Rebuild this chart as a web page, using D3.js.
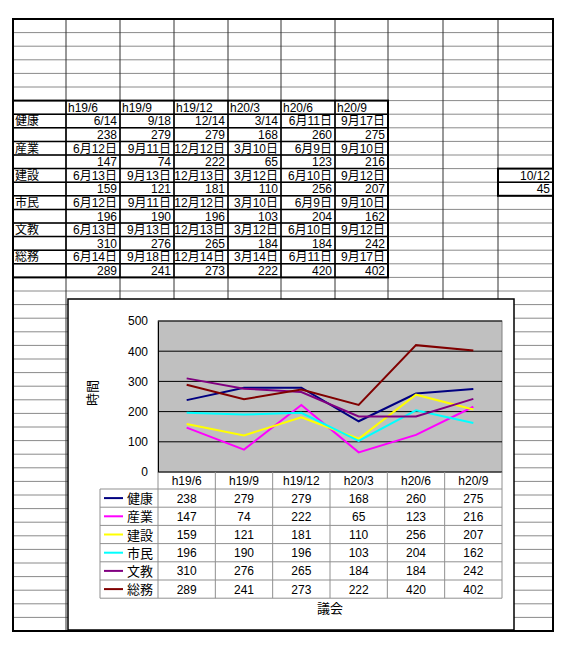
<!DOCTYPE html>
<html>
<head>
<meta charset="utf-8">
<script src="https://cdn.jsdelivr.net/npm/d3@7"></script>
<style>
  body { margin: 0; background: #fff; }
  svg text { font-family: "Liberation Sans", "Noto Sans CJK JP", sans-serif; }
</style>
</head>
<body>
<script>
// survey periods (columns)
var categories = ["h19/6", "h19/9", "h19/12", "h20/3", "h20/6", "h20/9"];
var depts = ["健康", "産業", "建設", "市民", "文教", "総務"];

// meeting dates per committee
var datesKenkou = ["6/14", "9/18", "12/14", "3/14", "6月11日", "9月17日"];
var datesSangyo = ["6月12日", "9月11日", "12月12日", "3月10日", "6月9日", "9月10日"];
var datesKensetsu = ["6月13日", "9月13日", "12月13日", "3月12日", "6月10日", "9月12日"];
var datesShimin = ["6月12日", "9月11日", "12月12日", "3月10日", "6月9日", "9月10日"];
var datesBunkyo = ["6月13日", "9月13日", "12月13日", "3月12日", "6月10日", "9月12日"];
var datesSomu = ["6月14日", "9月18日", "12月14日", "3月14日", "6月11日", "9月17日"];

// hours per committee
var kenkou = [238, 279, 279, 168, 260, 275];
var sangyo = [147, 74, 222, 65, 123, 216];
var kensetsu = [159, 121, 181, 110, 256, 207];
var shimin = [196, 190, 196, 103, 204, 162];
var bunkyo = [310, 276, 265, 184, 184, 242];
var somu = [289, 241, 273, 222, 420, 402];

var yTicks = [0, 100, 200, 300, 400, 500];
var extraDate = "10/12", extraValue = 45;

var colors = ["#000080", "#ff00ff", "#ffff00", "#00ffff", "#800080", "#800000"];
var allDates = [datesKenkou, datesSangyo, datesKensetsu, datesShimin, datesBunkyo, datesSomu];
var allValues = [kenkou, sangyo, kensetsu, shimin, bunkyo, somu];

var series = depts.map(function(d, i) {
  return { name: d, color: colors[i], dates: allDates[i], values: allValues[i] };
});

var svg = d3.select("body").append("svg")
  .attr("width", 575)
  .attr("height", 663);

// ---------- spreadsheet grid ----------
var colEdges = [13, 66, 120, 174, 228, 281, 335, 388, 443, 498, 553];
var sheetTop = 19, rowH = 13.6, nRows = 45;
var sheetBottom = sheetTop + rowH * nRows;
var rowY = function(r) { return sheetTop + r * rowH; };

var grid = svg.append("g");
d3.range(1, nRows).forEach(function(r) {
  grid.append("line")
    .attr("x1", colEdges[0]).attr("x2", colEdges[colEdges.length - 1])
    .attr("y1", rowY(r)).attr("y2", rowY(r))
    .attr("stroke", "#8a8a8a").attr("stroke-width", 1);
});
colEdges.slice(1, -1).forEach(function(x) {
  grid.append("line")
    .attr("x1", x).attr("x2", x)
    .attr("y1", sheetTop).attr("y2", sheetBottom)
    .attr("stroke", "#333").attr("stroke-width", 1);
});
grid.append("rect")
  .attr("x", colEdges[0]).attr("y", sheetTop)
  .attr("width", colEdges[colEdges.length - 1] - colEdges[0])
  .attr("height", sheetBottom - sheetTop)
  .attr("fill", "none").attr("stroke", "#000").attr("stroke-width", 2);

// table cells: header row 6, data rows 7..18
var cells = svg.append("g").style("font-size", "12px").attr("fill", "#000");
var tableTop = rowY(6), tableBottom = rowY(19);

categories.forEach(function(c, j) {
  cells.append("text")
    .attr("x", colEdges[j + 1] + 2).attr("y", rowY(7) - 2.5)
    .text(c);
});
series.forEach(function(s, i) {
  var r1 = 7 + i * 2, r2 = r1 + 1;
  cells.append("text")
    .attr("x", colEdges[0] + 2).attr("y", rowY(r1 + 1) - 2.5)
    .text(s.name);
  s.dates.forEach(function(d, j) {
    cells.append("text")
      .attr("x", colEdges[j + 2] - 3).attr("y", rowY(r1 + 1) - 2.5)
      .attr("text-anchor", "end").text(d);
    cells.append("text")
      .attr("x", colEdges[j + 2] - 3).attr("y", rowY(r2 + 1) - 2.5)
      .attr("text-anchor", "end").text(s.values[j]);
  });
});

// table borders
var tb = svg.append("g").attr("stroke", "#000");
d3.range(7, 19).forEach(function(r) {
  tb.append("line")
    .attr("x1", colEdges[0]).attr("x2", colEdges[7])
    .attr("y1", rowY(r)).attr("y2", rowY(r))
    .attr("stroke-width", 1.5);
});
colEdges.slice(1, 7).forEach(function(x) {
  tb.append("line")
    .attr("x1", x).attr("x2", x)
    .attr("y1", tableTop).attr("y2", tableBottom)
    .attr("stroke-width", 1.5);
});
tb.append("rect")
  .attr("x", colEdges[0]).attr("y", tableTop)
  .attr("width", colEdges[7] - colEdges[0]).attr("height", tableBottom - tableTop)
  .attr("fill", "none").attr("stroke-width", 2);

// the lone cell pair on the right
cells.append("text")
  .attr("x", colEdges[10] - 3).attr("y", rowY(12) - 2.5)
  .attr("text-anchor", "end").text(extraDate);
cells.append("text")
  .attr("x", colEdges[10] - 3).attr("y", rowY(13) - 2.5)
  .attr("text-anchor", "end").text(extraValue);
tb.append("line")
  .attr("x1", colEdges[9]).attr("x2", colEdges[10])
  .attr("y1", rowY(12)).attr("y2", rowY(12)).attr("stroke-width", 1.5);
tb.append("rect")
  .attr("x", colEdges[9]).attr("y", rowY(11))
  .attr("width", colEdges[10] - colEdges[9]).attr("height", rowH * 2)
  .attr("fill", "none").attr("stroke-width", 2);

// ---------- embedded chart ----------
var chart = svg.append("g");
chart.append("rect")
  .attr("x", 68).attr("y", 299).attr("width", 446).attr("height", 331)
  .attr("fill", "#fff").attr("stroke", "#000").attr("stroke-width", 1.5);

var plot = { left: 158, right: 502, top: 321, bottom: 472 };

var x = d3.scaleBand()
  .domain(categories)
  .range([plot.left, plot.right]);

var y = d3.scaleLinear()
  .domain([0, 500])
  .range([plot.bottom, plot.top]);

chart.append("rect")
  .attr("x", plot.left).attr("y", plot.top)
  .attr("width", plot.right - plot.left).attr("height", plot.bottom - plot.top)
  .attr("fill", "#c0c0c0").attr("stroke", "#808080");

// gridlines
chart.append("g")
  .selectAll("line")
  .data(yTicks.slice(1))
  .enter().append("line")
  .attr("x1", plot.left).attr("x2", plot.right)
  .attr("y1", function(d) { return y(d); })
  .attr("y2", function(d) { return y(d); })
  .attr("stroke", "#000").attr("stroke-width", 1);

var yAxis = chart.append("g")
  .attr("transform", "translate(" + plot.left + ",0)")
  .call(d3.axisLeft(y).tickValues(yTicks).tickSize(0).tickPadding(10));
yAxis.select(".domain").attr("stroke", "#000");
yAxis.selectAll("text")
  .style("font-family", "Liberation Sans, sans-serif")
  .style("font-size", "12px").attr("fill", "#000");

chart.append("line")
  .attr("x1", plot.left).attr("x2", plot.right)
  .attr("y1", plot.bottom).attr("y2", plot.bottom)
  .attr("stroke", "#000");

// axis titles
chart.append("text")
  .attr("transform", "translate(97,393) rotate(-90)")
  .attr("text-anchor", "middle")
  .style("font-size", "13px")
  .text("時間");
chart.append("text")
  .attr("x", (plot.left + plot.right) / 2).attr("y", 613)
  .attr("text-anchor", "middle")
  .style("font-size", "13px")
  .text("議会");

// series lines
var line = d3.line()
  .x(function(d, i) { return x(categories[i]) + x.bandwidth() / 2; })
  .y(function(d) { return y(d); });

chart.append("g")
  .selectAll("path")
  .data(series)
  .enter().append("path")
  .attr("d", function(d) { return line(d.values); })
  .attr("fill", "none")
  .attr("stroke", function(d) { return d.color; })
  .attr("stroke-width", 2);

// data table under the plot
var dtTop = plot.bottom, headH = 17, dtRowH = 18.2, legLeft = 100;
var dt = chart.append("g");
var dtLines = chart.append("g").attr("stroke", "#909090").attr("stroke-width", 1);

categories.forEach(function(c) {
  dt.append("text")
    .attr("x", x(c) + x.bandwidth() / 2).attr("y", dtTop + 13)
    .attr("text-anchor", "middle").style("font-size", "12px")
    .text(c);
});

series.forEach(function(s, i) {
  var top = dtTop + headH + i * dtRowH;
  dt.append("line")
    .attr("x1", legLeft + 4).attr("x2", legLeft + 23)
    .attr("y1", top + dtRowH / 2).attr("y2", top + dtRowH / 2)
    .attr("stroke", s.color).attr("stroke-width", 2);
  dt.append("text")
    .attr("x", legLeft + 27).attr("y", top + dtRowH / 2 + 5)
    .style("font-size", "13px")
    .text(s.name);
  s.values.forEach(function(v, j) {
    dt.append("text")
      .attr("x", x(categories[j]) + x.bandwidth() / 2).attr("y", top + dtRowH / 2 + 4.5)
      .attr("text-anchor", "middle").style("font-size", "12px")
      .text(v);
  });
});

var dtBottom = dtTop + headH + series.length * dtRowH;
d3.range(series.length + 1).forEach(function(i) {
  var yy = dtTop + headH + i * dtRowH;
  dtLines.append("line")
    .attr("x1", legLeft).attr("x2", plot.right)
    .attr("y1", yy).attr("y2", yy);
});
dtLines.append("line")
  .attr("x1", legLeft).attr("x2", legLeft)
  .attr("y1", dtTop + headH).attr("y2", dtBottom);
categories.forEach(function(c, j) {
  dtLines.append("line")
    .attr("x1", x(c)).attr("x2", x(c))
    .attr("y1", dtTop).attr("y2", dtBottom);
});
dtLines.append("line")
  .attr("x1", plot.right).attr("x2", plot.right)
  .attr("y1", dtTop).attr("y2", dtBottom);
</script>
</body>
</html>
